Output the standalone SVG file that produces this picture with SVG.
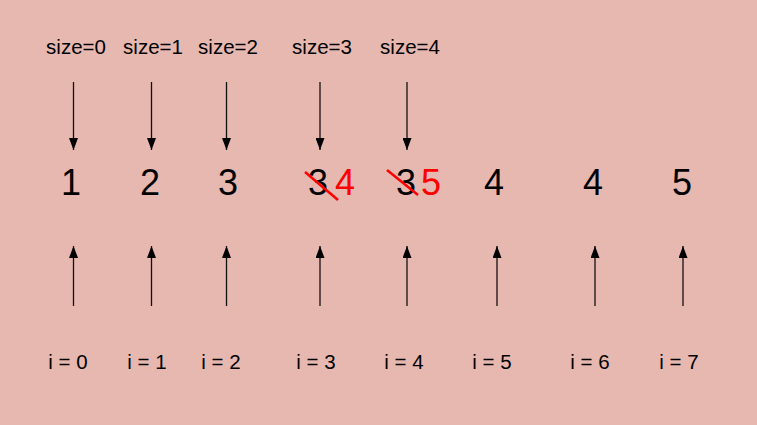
<svg xmlns="http://www.w3.org/2000/svg" width="757" height="425" viewBox="0 0 757 425">
<style>
.lbl{font-family:"Liberation Sans",Arial,sans-serif;font-size:20.5px;fill:#000;text-anchor:middle}
.num{font-family:"Liberation Sans",Arial,sans-serif;font-size:36px;fill:#000;text-anchor:middle}
.red{fill:#ff0000}
.ar{stroke:#111;stroke-width:1.3;fill:none;marker-end:url(#ah)}
.strike{stroke:#ff0000;stroke-width:2.5}
</style>
<defs>
<marker id="ah" markerWidth="12" markerHeight="9" refX="12" refY="4.5" orient="auto" markerUnits="userSpaceOnUse" viewBox="0 0 12 9">
<path d="M0,0 L12,4.5 L0,9 z" fill="#000"/>
</marker>
</defs>
<rect width="757" height="425" fill="#e7b8b0"/>
<g id="size-labels">
<text class="lbl" x="76" y="54">size=0</text>
<text class="lbl" x="153" y="54">size=1</text>
<text class="lbl" x="228" y="54">size=2</text>
<text class="lbl" x="322" y="54">size=3</text>
<text class="lbl" x="410" y="54">size=4</text>
</g>
<g id="values">
<text class="num" x="71" y="195">1</text>
<text class="num" x="150" y="195">2</text>
<text class="num" x="228" y="195">3</text>
<text class="num" x="318" y="195">3</text>
<text class="num red" x="345" y="195">4</text>
<text class="num" x="406" y="195">3</text>
<text class="num red" x="431" y="195">5</text>
<text class="num" x="494" y="195">4</text>
<text class="num" x="593" y="195">4</text>
<text class="num" x="682" y="195">5</text>
<line class="strike" x1="305" y1="172" x2="338" y2="200"/>
<line class="strike" x1="387" y1="170" x2="418" y2="195"/>
</g>
<g id="index-labels">
<text class="lbl" x="68" y="369">i = 0</text>
<text class="lbl" x="147" y="369">i = 1</text>
<text class="lbl" x="221" y="369">i = 2</text>
<text class="lbl" x="316" y="369">i = 3</text>
<text class="lbl" x="404" y="369">i = 4</text>
<text class="lbl" x="492" y="369">i = 5</text>
<text class="lbl" x="590" y="369">i = 6</text>
<text class="lbl" x="679" y="369">i = 7</text>
</g>
<g id="connectors">
<line class="ar" x1="73.5" y1="82" x2="73.5" y2="150"/>
<line class="ar" x1="151.5" y1="82" x2="151.5" y2="150"/>
<line class="ar" x1="226.5" y1="82" x2="226.5" y2="150"/>
<line class="ar" x1="320" y1="82" x2="320" y2="150"/>
<line class="ar" x1="407" y1="82" x2="407" y2="150"/>
<line class="ar" x1="73.5" y1="306" x2="73.5" y2="246"/>
<line class="ar" x1="151.5" y1="306" x2="151.5" y2="246"/>
<line class="ar" x1="226.5" y1="306" x2="226.5" y2="246"/>
<line class="ar" x1="320" y1="306" x2="320" y2="246"/>
<line class="ar" x1="407" y1="306" x2="407" y2="246"/>
<line class="ar" x1="497" y1="306" x2="497" y2="246"/>
<line class="ar" x1="595" y1="306" x2="595" y2="246"/>
<line class="ar" x1="683" y1="306" x2="683" y2="246"/>
</g>
</svg>
